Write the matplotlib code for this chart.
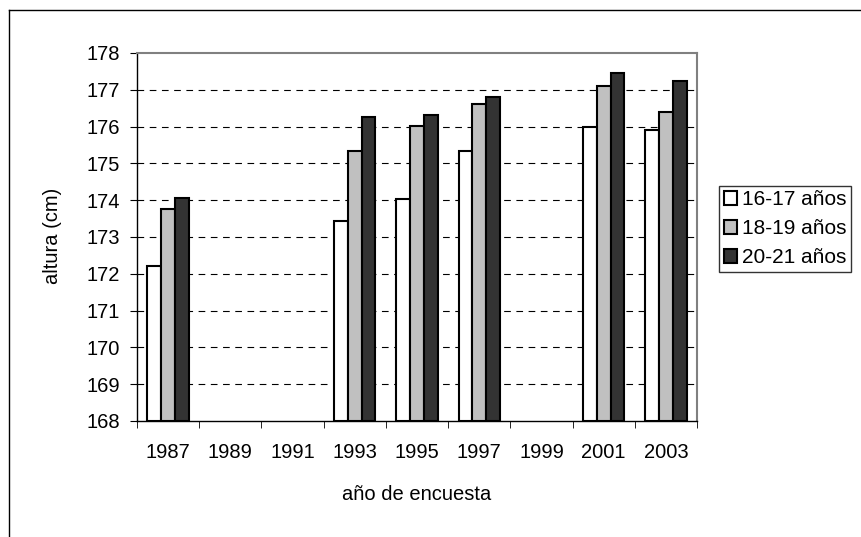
import numpy as np
import matplotlib
matplotlib.use("Agg")
import matplotlib.pyplot as plt
from matplotlib.lines import Line2D

# Data
years = ["1987", "1989", "1991", "1993", "1995", "1997", "1999", "2001", "2003"]
h_16_17 = [172.2, np.nan, np.nan, 173.43, 174.02, 175.33, np.nan, 175.98, 175.92]
h_18_19 = [173.77, np.nan, np.nan, 175.35, 176.02, 176.62, np.nan, 177.11, 176.4]
h_20_21 = [174.07, np.nan, np.nan, 176.25, 176.32, 176.8, np.nan, 177.45, 177.23]
series = ["16-17 años", "18-19 años", "20-21 años"]
colors = ["white", "#C0C0C0", "#333333"]

plt.rcParams["font.family"] = ["Liberation Sans", "DejaVu Sans"]
FS = 14.5
W, H = 862, 537

fig = plt.figure(figsize=(W / 100, H / 100), dpi=100)
ax = fig.add_axes([137/W, 1 - 421/H, (697-137)/W, (421-53)/H])

# outer chart-area frame (cut off right and bottom, as in the reference)
fig.add_artist(Line2D([9/W, 9/W], [-0.01, 1 - 10/H], transform=fig.transFigure, color="black", lw=1))
fig.add_artist(Line2D([9/W, 1.01], [1 - 10/H, 1 - 10/H], transform=fig.transFigure, color="black", lw=1))

x = np.arange(len(years))
w = 0.222
base = 168
for i, (vals, c, lab) in enumerate(zip([h_16_17, h_18_19, h_20_21], colors, series)):
    v = np.array(vals)
    ax.bar(x + (i - 1) * w, v - base, w, bottom=base, color=c, edgecolor="black",
           linewidth=1.5, label=lab, zorder=3)

ax.set_xlim(-0.5, len(years) - 0.5)
ax.set_ylim(168, 178)
ax.set_yticks(range(168, 179))
ax.tick_params(axis="y", labelsize=FS, length=5, direction="out", pad=7)
ax.set_xticks(x)
ax.set_xticklabels(years)
ax.tick_params(axis="x", which="major", length=0, labelsize=FS, pad=16)
ax.set_xticks(np.arange(-0.5, len(years)), minor=True)
ax.tick_params(axis="x", which="minor", length=5, direction="out")

for yv in range(169, 178):
    ax.axhline(yv, color="black", lw=0.8, ls=(0, (6, 5)), zorder=1)

for s in ["top", "right"]:
    ax.spines[s].set_color("#808080")
    ax.spines[s].set_linewidth(1.5)
ax.spines["left"].set_linewidth(1.0)
ax.spines["bottom"].set_linewidth(1.0)

fig.text(53/W, 1 - 236/H, "altura (cm)", fontsize=FS, rotation=90, ha="center", va="center")
fig.text(417/W, 1 - 495/H, "año de encuesta", fontsize=FS, ha="center", va="center")

leg = ax.legend(loc="lower left", bbox_to_anchor=(719/W, 1 - 272/H),
                bbox_transform=fig.transFigure, fontsize=15, frameon=True,
                fancybox=False, edgecolor="black", handlelength=0.63,
                handleheight=0.63, handletextpad=0.25, borderpad=0.22,
                labelspacing=0.48, borderaxespad=0)
leg.get_frame().set_linewidth(1.0)

fig.savefig("out.png", dpi=100)
